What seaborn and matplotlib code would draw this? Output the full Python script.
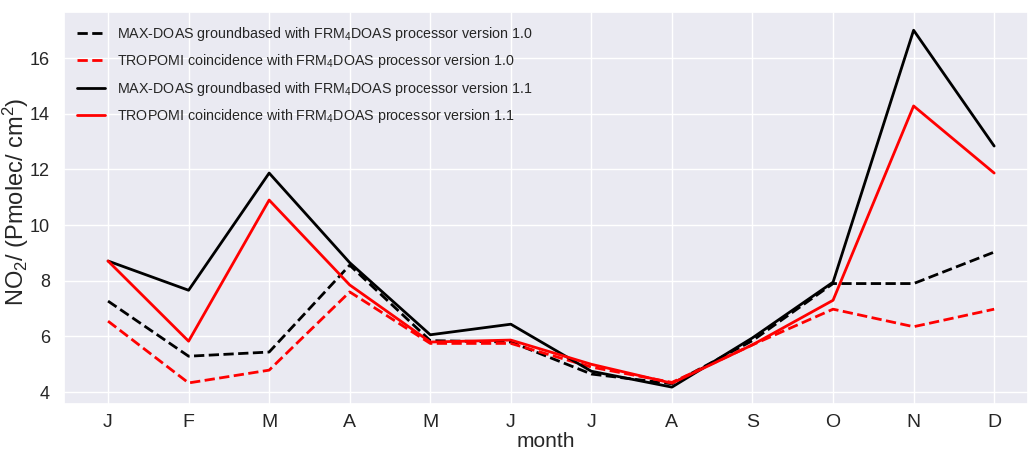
import matplotlib
matplotlib.use("Agg")
import matplotlib.pyplot as plt
import seaborn as sns
import numpy as np
import pandas as pd

months = ["J", "F", "M", "A", "M", "J", "J", "A", "S", "O", "N", "D"]
maxdoas_v10 = [7.27, 5.29, 5.44, 8.56, 5.85, 5.80, 4.65, 4.30, 5.85, 7.90, 7.90, 9.03]
tropomi_v10 = [6.55, 4.33, 4.79, 7.60, 5.75, 5.75, 4.90, 4.35, 5.70, 6.98, 6.35, 6.98]
maxdoas_v11 = [8.71, 7.66, 11.87, 8.65, 6.06, 6.44, 4.75, 4.18, 5.95, 7.95, 17.00, 12.84]
tropomi_v11 = [8.71, 5.83, 10.90, 7.85, 5.80, 5.87, 5.00, 4.32, 5.70, 7.30, 14.28, 11.87]

labels = [
    "MAX-DOAS groundbased with FRM$_4$DOAS processor version 1.0",
    "TROPOMI coincidence with FRM$_4$DOAS processor version 1.0",
    "MAX-DOAS groundbased with FRM$_4$DOAS processor version 1.1",
    "TROPOMI coincidence with FRM$_4$DOAS processor version 1.1",
]
series = [maxdoas_v10, tropomi_v10, maxdoas_v11, tropomi_v11]
colors = ["black", "red", "black", "red"]
styles = ["--", "--", "-", "-"]

sns.set_theme(style="darkgrid")
plt.rcParams["font.family"] = ["Liberation Sans", "DejaVu Sans"]
plt.rcParams["mathtext.fontset"] = "custom"
plt.rcParams["mathtext.rm"] = "Liberation Sans"
plt.rcParams["mathtext.it"] = "Liberation Sans:italic"

fig = plt.figure(figsize=(10.28, 4.5), dpi=100)
ax = fig.add_axes([0.062, 0.102, 0.938, 0.871])
x = np.arange(len(months))
for vals, lab, c, ls in zip(series, labels, colors, styles):
    sns.lineplot(x=x, y=vals, ax=ax, color=c, linestyle=ls, linewidth=2, label=lab)

ax.set_xticks(x)
ax.set_xticklabels(months)
ax.tick_params(axis="x", labelsize=14, pad=1)
ax.tick_params(axis="y", labelsize=13, pad=4)
ax.set_xlim(-0.55, 11.42)
ax.set_ylim(3.57, 17.65)
ax.set_yticks([4, 6, 8, 10, 12, 14, 16])
ax.set_xlabel("month", fontsize=15)
ax.xaxis.set_label_coords(0.5, -0.072)
ax.set_ylabel("NO$_2$/ (Pmolec/ cm$^2$)", fontsize=17)
ax.yaxis.set_label_coords(-0.034, 0.515)
leg = ax.legend(loc="upper left", frameon=False, fontsize=10.3, handlelength=2.0,
                handletextpad=0.85, labelspacing=0.65, borderaxespad=0.5)
fig.savefig("out.png", dpi=100)
